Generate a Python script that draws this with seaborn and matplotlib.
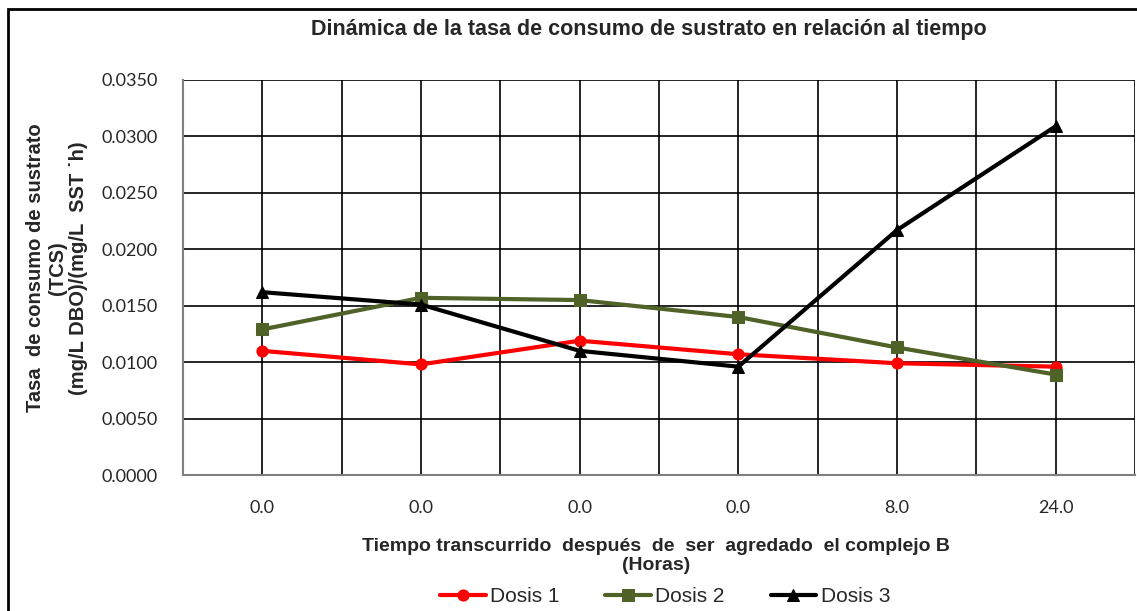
import matplotlib
matplotlib.use("Agg")
import matplotlib.pyplot as plt
import seaborn as sns
import pandas as pd
import numpy as np
from matplotlib.patches import Rectangle
from matplotlib import font_manager

x_labels = ["0.0", "0.0", "0.0", "0.0", "8.0", "24.0"]
dosis1 = [0.0110, 0.0098, 0.0119, 0.0107, 0.0099, 0.0096]
dosis2 = [0.0129, 0.0157, 0.0155, 0.0140, 0.0113, 0.0089]
dosis3 = [0.0162, 0.0151, 0.0110, 0.0096, 0.0217, 0.0309]
series_names = ["Dosis 1", "Dosis 2", "Dosis 3"]
colors = ["#FF0000", "#4F6228", "#000000"]
markers = ["o", "s", "^"]

sns.set_theme(style="white")
plt.rcParams['font.family'] = ['Liberation Sans', 'DejaVu Sans']

names = {f.name for f in font_manager.fontManager.ttflist}
legend_family = 'Liberation Sans Narrow' if 'Liberation Sans Narrow' in names else 'Liberation Sans'

fig = plt.figure(figsize=(11.37, 6.11), dpi=100)
ax = fig.add_axes([183/1137, 1-475/611, (1135-183)/1137, (475-80)/611])

pos = list(range(len(x_labels)))
for name, vals, c, m in zip(series_names, [dosis1, dosis2, dosis3], colors, markers):
    df = pd.DataFrame({"x": pos, "y": vals})
    sns.lineplot(data=df, x="x", y="y", ax=ax, color=c, marker=m, markersize=8,
                 markeredgecolor=c, linewidth=3, label=name, zorder=3)

ax.set_xlim(-0.5, 5.5)
ax.set_ylim(0, 0.035)
yt = np.arange(0, 0.0351, 0.005)
ax.set_yticks(yt)
ax.set_yticklabels([f"{v:.4f}" for v in yt], fontsize=13, family=['Lato', 'DejaVu Sans'])
ax.set_xticks(pos)
ax.set_xticklabels(x_labels, fontsize=13, family=['Lato', 'DejaVu Sans'])
ax.tick_params(axis='both', length=0)
ax.tick_params(axis='y', pad=18)
ax.tick_params(axis='x', pad=18)

for yv in np.arange(0.005, 0.0351, 0.005):
    ax.axhline(yv, color="black", linewidth=1.2, zorder=1)
for xv in np.arange(-0.5, 5.51, 0.5):
    ax.axvline(xv, color="black", linewidth=1.2, zorder=1)

for s in ["top", "right"]:
    ax.spines[s].set_visible(False)
for s in ["left", "bottom"]:
    ax.spines[s].set_color("#808080")
    ax.spines[s].set_linewidth(1.5)

ax.set_xlabel("")
ax.set_ylabel("")
ax.get_legend().remove()

fig.text(649/1137, 1-30/611, "Dinámica de la tasa de consumo de sustrato en relación al tiempo",
         ha="center", va="center", fontsize=15.5, fontweight="bold")
fig.text(656/1137, 1-556/611, "Tiempo transcurrido  después  de  ser  agredado  el complejo B\n(Horas)",
         ha="center", va="center", fontsize=14, fontweight="bold", linespacing=1.2)
fig.text(57/1137, 1-268/611, "Tasa  de consumo de sustrato\n(TCS)\n(mg/L DBO)/(mg/L  SST \u02d9h)",
         ha="center", va="center", fontsize=14.5, fontweight="bold", rotation=90, linespacing=1.15)

handles, labels = ax.get_legend_handles_labels()
fig.legend(handles, labels, loc="center", bbox_to_anchor=(665/1137, 1-597/611), ncol=3,
           frameon=False, prop={'family': legend_family, 'size': 15}, handlelength=2.2,
           columnspacing=2.2, handletextpad=0.2, borderaxespad=0)

fig.patches.append(Rectangle((8/1137, -0.05), 1.2, 1-9/611+0.05, transform=fig.transFigure,
                             fill=False, edgecolor="black", linewidth=2))

fig.savefig("out.png", dpi=100)
